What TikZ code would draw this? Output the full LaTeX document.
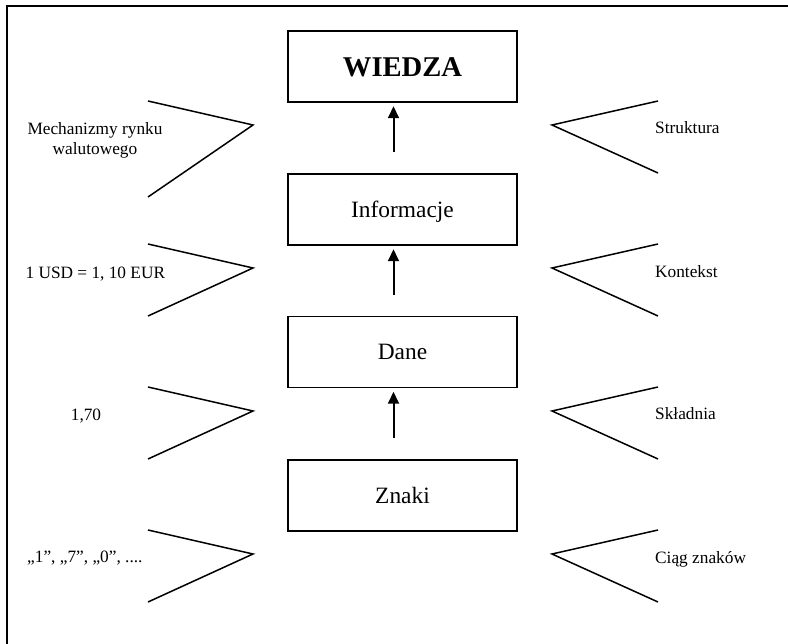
\documentclass[tikz,border=0pt]{standalone}
\usepackage{fontspec}
\setmainfont{Liberation Serif}
\usetikzlibrary{arrows.meta}

\tikzset{
  levelbox/.style={draw, line width=1.5pt, minimum width=229pt, minimum height=71pt,
    inner sep=0pt, text height=15.4pt, text depth=0pt,
    font=\fontsize{23.4}{28}\selectfont},
  topbox/.style={levelbox, text height=19.3pt,
    font=\fontsize{28.6}{32}\selectfont\bfseries},
  sidetext/.style={inner sep=0pt, font=\fontsize{17.3}{20}\selectfont},
  upconn/.style={line width=2pt, -{Triangle[length=12pt,width=11pt]},
    shorten >=3.5pt, shorten <=21pt},
  chevron/.style={line width=1.5pt, line join=miter},
  framestyle/.style={line width=2pt}
}

\begin{document}
\begin{tikzpicture}[x=1pt,y=-1pt]
  \useasboundingbox (0,0) rectangle (788,644);

  % outer frame (only its top and left edges fall inside the page)
  \draw[framestyle] (7,660) -- (7,6) -- (800,6);

  % the four levels
  \node[topbox]   (wiedza) at (402.5,66.5) {WIEDZA};
  \node[levelbox] (info)   at (402.5,209.5) {Informacje};
  \node[levelbox] (dane)   at (402.5,352) {Dane};
  \node[levelbox] (znaki)  at (402.5,495.5) {Znaki};

  % arrows between levels, on a common vertical line
  \coordinate (ax) at (393.5,0);
  \draw[upconn] (info.north -| ax)  -- (wiedza.south -| ax);
  \draw[upconn] (dane.north -| ax)  -- (info.south -| ax);
  \draw[upconn] (znaki.north -| ax) -- (dane.south -| ax);

  % left-hand brackets
  \draw[chevron] (148,101) -- (253,125) -- (148,197);
  \draw[chevron] (148,244) -- (253,268) -- (148,316);
  \draw[chevron] (148,387) -- (253,411) -- (148,459);
  \draw[chevron] (148,530) -- (253,554) -- (148,602);

  % right-hand brackets
  \draw[chevron] (658,101) -- (552,125) -- (658,173);
  \draw[chevron] (658,244) -- (552,268) -- (658,316);
  \draw[chevron] (658,387) -- (552,411) -- (658,459);
  \draw[chevron] (658,530) -- (552,554) -- (658,602);

  % examples on the left
  \node[sidetext, align=center] (mech) at (95,140) {Mechanizmy rynku\\walutowego};
  \node[sidetext, anchor=base] (usd) at (95.3,279) {1 USD = 1, 10 EUR};
  \node[sidetext, anchor=base] (liczba) at (86,421) {1,70};
  \node[sidetext, anchor=base west] (cyfry) at (27,562) {„1”, „7”, „0”, ....};

  % what is added on the right
  \node[sidetext, anchor=base west] (struktura) at (655,134) {Struktura};
  \node[sidetext, anchor=base west] (kontekst)  at (655,278) {Kontekst};
  \node[sidetext, anchor=base west] (skladnia)  at (655,420) {Składnia};
  \node[sidetext, anchor=base west] (ciag)      at (655,563.5) {Ciąg znaków};
\end{tikzpicture}
\end{document}
